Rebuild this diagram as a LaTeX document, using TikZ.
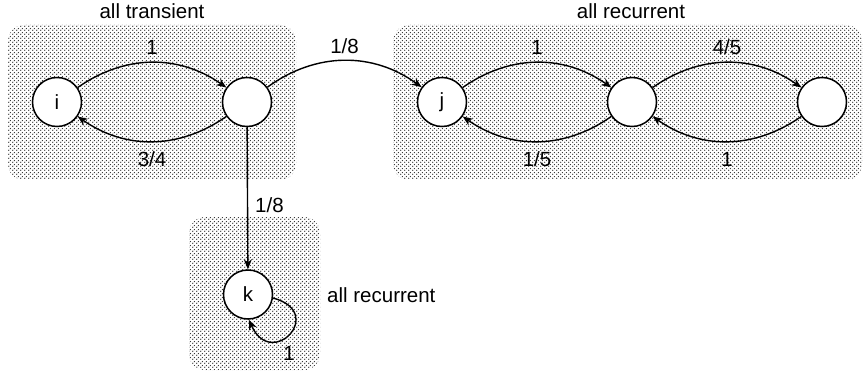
\documentclass[tikz,border=0pt]{standalone}
\usepackage{fontspec}
\setmainfont{Liberation Sans}
\usetikzlibrary{arrows.meta,patterns.meta}
\tikzdeclarepattern{name=regiondots, type=uncolored,
  bottom left={(0pt,0pt)}, top right={(4pt,4pt)}, tile size={(4pt,4pt)},
  code={\fill (1pt,1pt) circle (0.8pt); \fill (3pt,3pt) circle (0.8pt);}}
\begin{document}
\begin{tikzpicture}[x=1pt,y=1pt,
  font=\fontsize{20.5}{24}\selectfont,
  state/.style={circle,draw,fill=white,line width=1.5pt,minimum size=49pt,inner sep=0pt},
  region/.style={pattern=regiondots,pattern color=black!85,rounded corners=16pt},
  arr/.style={-{Stealth[length=10pt,width=8pt]},line width=1.4pt},
  lbl/.style={inner sep=1pt}]
\useasboundingbox (0,0) rectangle (864,375);
\fill[white] (0,0) rectangle (864,375);
% regions
\path[region] (8,195) rectangle (296,350);
\path[region] (393,195) rectangle (862,350);
\path[region] (189,5) rectangle (320,158);
\node[anchor=base] (t1) at (152,356) {all transient};
\node[anchor=base] (t2) at (631,356) {all recurrent};
\node[anchor=base west,inner sep=0pt] (t3) at (327,73) {all recurrent};
% states
\node[state] (i) at (57,273) {i};
\node[state] (a) at (247,273) {};
\node[state] (j) at (442,273) {j};
\node[state] (m) at (632,273) {};
\node[state] (r) at (822,273) {};
\node[state] (k) at (248,80.5) {k};
% edges
\draw[arr] (i) to[bend left=35] node[lbl,above=6pt] {1} (a);
\draw[arr] (a) to[bend left=35] node[lbl,below=9pt] {3/4} (i);
\draw[arr] (a) to[bend left=36] node[lbl,above=5pt,pos=0.5] {1/8} (j);
\draw[arr] (a) -- node[lbl,right=6pt,pos=0.55] {1/8} (k);
\draw[arr] (j) to[bend left=35] node[lbl,above=6pt] {1} (m);
\draw[arr] (m) to[bend left=35] node[lbl,below=9pt] {1/5} (j);
\draw[arr] (m) to[bend left=35] node[lbl,above=6pt] {4/5} (r);
\draw[arr] (r) to[bend left=35] node[lbl,below=9pt] {1} (m);
\draw[arr] (k.-8) to[out=-15,in=-66,distance=56pt] (k.-88);
\node[lbl] (l1) at (289,22) {1};
\end{tikzpicture}
\end{document}
